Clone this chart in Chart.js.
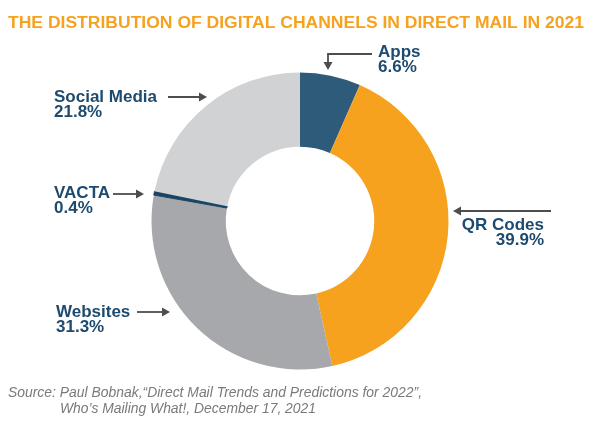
<!DOCTYPE html>
<html>
<head>
<meta charset="utf-8">
<script src="https://cdn.jsdelivr.net/npm/chart.js@4.4.1/dist/chart.umd.min.js"></script>
<style>
  html, body { margin: 0; padding: 0; background: #fff; }
  #wrap { width: 600px; height: 431px; position: relative; }
</style>
</head>
<body>
<div id="wrap"><canvas id="chart"></canvas></div>
<script>
// data, clockwise from 12 o'clock
const categories = ["Apps", "QR Codes", "Websites", "VACTA", "Social Media"];
const shares = [6.6, 39.9, 31.3, 0.4, 21.8];
const sliceColors = ["#2e5b7a", "#f6a21e", "#a7a8ab", "#1b4363", "#d0d2d3"];

const titleText = "THE DISTRIBUTION OF DIGITAL CHANNELS IN DIRECT MAIL IN 2021";
const sourceLines = [
  "Source: Paul Bobnak,\u201cDirect Mail Trends and Predictions for 2022\u201d,",
  "Who\u2019s Mailing What!, December 17, 2021",
];

// where each callout sits (name line baseline, align, arrow path)
const callouts = {
  "Apps":         { x: 378, y: 57,  align: "left",  arrow: [[372, 54], [328, 54], [328, 68]] },
  "QR Codes":     { x: 544, y: 230, align: "right", arrow: [[551, 211], [455, 211]] },
  "Websites":     { x: 56,  y: 317, align: "left",  arrow: [[137, 312], [168, 312]] },
  "VACTA":        { x: 54,  y: 198, align: "left",  arrow: [[113, 194], [142, 194]] },
  "Social Media": { x: 54,  y: 102, align: "left",  arrow: [[168, 97], [205, 97]] },
};

// draw text squeezed/stretched to a given width
function fitText(ctx, text, x, y, width) {
  const w = ctx.measureText(text).width;
  ctx.save();
  ctx.translate(x, y);
  ctx.scale(width / w, 1);
  ctx.textAlign = "left";
  ctx.fillText(text, 0, 0);
  ctx.restore();
}

function drawArrow(ctx, pts) {
  ctx.save();
  ctx.strokeStyle = "#4d4d4f";
  ctx.fillStyle = "#4d4d4f";
  ctx.lineWidth = 1.8;
  ctx.beginPath();
  ctx.moveTo(pts[0][0], pts[0][1]);
  for (let i = 1; i < pts.length; i++) ctx.lineTo(pts[i][0], pts[i][1]);
  ctx.stroke();
  const [ax, ay] = pts[pts.length - 2];
  const [bx, by] = pts[pts.length - 1];
  const ang = Math.atan2(by - ay, bx - ax);
  ctx.translate(bx, by);
  ctx.rotate(ang);
  ctx.beginPath();
  ctx.moveTo(2, 0);
  ctx.lineTo(-6, -4.5);
  ctx.lineTo(-6, 4.5);
  ctx.closePath();
  ctx.fill();
  ctx.restore();
}

const annotations = {
  id: "annotations",
  afterDraw(chart) {
    const ctx = chart.ctx;
    ctx.save();
    ctx.textBaseline = "alphabetic";

    ctx.fillStyle = "#f6a21e";
    ctx.font = "bold 16px 'Liberation Sans', Arial, sans-serif";
    fitText(ctx, titleText, 8, 28, 576);

    ctx.font = "bold 17px 'Liberation Sans', Arial, sans-serif";
    ctx.fillStyle = "#1d4a6e";
    categories.forEach((name, i) => {
      const c = callouts[name];
      ctx.textAlign = c.align;
      ctx.fillText(name, c.x, c.y);
      ctx.fillText(shares[i].toFixed(1) + "%", c.x, c.y + 15);
      drawArrow(ctx, c.arrow);
    });

    ctx.fillStyle = "#7a7a7c";
    ctx.font = "italic 14px 'Liberation Sans', Arial, sans-serif";
    fitText(ctx, sourceLines[0], 8, 397, 414);
    fitText(ctx, sourceLines[1], 60, 413, 256);
    ctx.restore();
  },
};

new Chart(document.getElementById("chart"), {
  type: "doughnut",
  data: {
    labels: categories,
    datasets: [{
      data: shares,
      backgroundColor: sliceColors,
      borderColor: sliceColors,
      borderWidth: [0, 0, 0, 1, 0],
    }],
  },
  options: {
    responsive: true,
    maintainAspectRatio: false,
    animation: false,
    cutout: "50%",
    layout: { padding: { left: 151, right: 151, top: 72, bottom: 61 } },
    plugins: {
      legend: { display: false },
      tooltip: { enabled: false },
    },
  },
  plugins: [annotations],
});
</script>
</body>
</html>
